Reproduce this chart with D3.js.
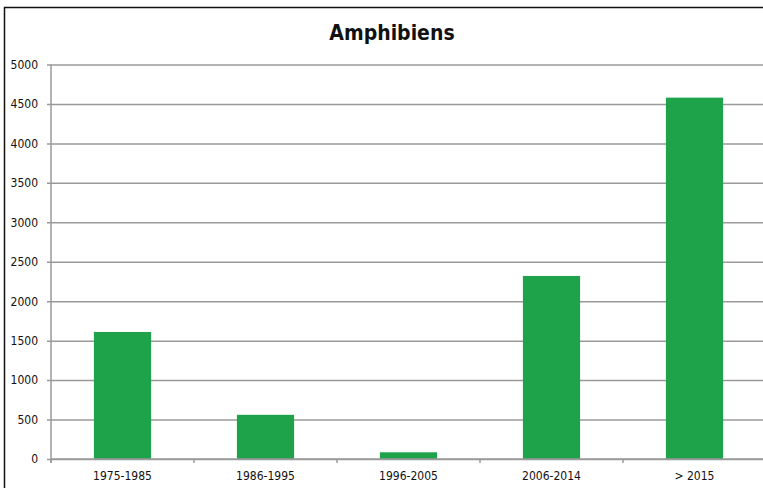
<!DOCTYPE html>
<html>
<head>
<meta charset="utf-8">
<script src="https://cdn.jsdelivr.net/npm/d3@7"></script>
<style>
  body { margin: 0; background: #fff; }
  text { font-family: "Liberation Sans Narrow", "DejaVu Sans Condensed", "Liberation Sans", sans-serif; }
</style>
</head>
<body>
<svg id="chart"></svg>
<script>
const categories = ['1975-1985', '1986-1995', '1996-2005', '2006-2014', '> 2015'];
const values = [1610, 560, 85, 2320, 4580];
const yTicks = [0, 500, 1000, 1500, 2000, 2500, 3000, 3500, 4000, 4500, 5000];

const width = 763, height = 488;
const margin = { top: 64.5, right: -3, bottom: 29, left: 51 };

const svg = d3.select('#chart')
    .attr('width', width)
    .attr('height', height);

// outer frame
svg.append('rect')
    .attr('x', 4.5)
    .attr('y', 7.5)
    .attr('width', 800)
    .attr('height', 600)
    .attr('fill', 'none')
    .attr('stroke', '#111')
    .attr('stroke-width', 1.5);

const xScale = d3.scaleBand()
    .domain(categories)
    .range([margin.left, width - margin.right])
    .paddingInner(0.6)
    .paddingOuter(0.3);

const yScale = d3.scaleLinear()
    .domain([0, 5000])
    .range([height - margin.bottom, margin.top]);

const step = xScale.step();

// gridlines + y axis
const yAxis = d3.axisLeft(yScale)
    .tickValues(yTicks)
    .tickSize(-(width - margin.right - margin.left) - 4)
    .tickPadding(9)
    .tickFormat(d3.format('d'));

const yAxisG = svg.append('g')
    .attr('transform', `translate(${margin.left - 4},0)`)
    .call(yAxis);
yAxisG.select('.domain').remove();
yAxisG.selectAll('.tick line')
    .attr('stroke', '#9a9a9a')
    .attr('stroke-width', 1.5);
yAxisG.selectAll('.tick text')
    .attr('fill', '#111')
    .style('font-size', '12px');

// vertical axis line
svg.append('line')
    .attr('x1', margin.left).attr('x2', margin.left)
    .attr('y1', yScale(5000)).attr('y2', yScale(0) + 4)
    .attr('stroke', '#9a9a9a')
    .attr('stroke-width', 1.5);

// bars
svg.selectAll('rect.bar')
    .data(categories)
    .join('rect')
    .attr('class', 'bar')
    .attr('x', d => xScale(d))
    .attr('width', xScale.bandwidth())
    .attr('y', (d, i) => yScale(values[i]))
    .attr('height', (d, i) => yScale(0) - yScale(values[i]))
    .attr('fill', '#1ea34b');

// x axis: baseline, boundary ticks, labels
svg.append('line')
    .attr('x1', margin.left).attr('x2', width)
    .attr('y1', yScale(0)).attr('y2', yScale(0))
    .attr('stroke', '#9a9a9a')
    .attr('stroke-width', 1.5);

svg.selectAll('line.xtick')
    .data(categories)
    .join('line')
    .attr('class', 'xtick')
    .attr('x1', d => xScale(d) - step * 0.3)
    .attr('x2', d => xScale(d) - step * 0.3)
    .attr('y1', yScale(0))
    .attr('y2', yScale(0) + 4)
    .attr('stroke', '#9a9a9a')
    .attr('stroke-width', 1.5);

svg.selectAll('text.xlabel')
    .data(categories)
    .join('text')
    .attr('class', 'xlabel')
    .attr('x', d => xScale(d) + xScale.bandwidth() / 2)
    .attr('y', yScale(0) + 21)
    .attr('text-anchor', 'middle')
    .attr('fill', '#111')
    .style('font-size', '12px')
    .text(d => d);

// title
svg.append('text')
    .attr('x', 392)
    .attr('y', 40)
    .attr('text-anchor', 'middle')
    .attr('fill', '#111')
    .style('font-size', '21px')
    .style('font-weight', 'bold')
    .text('Amphibiens');
</script>
</body>
</html>
